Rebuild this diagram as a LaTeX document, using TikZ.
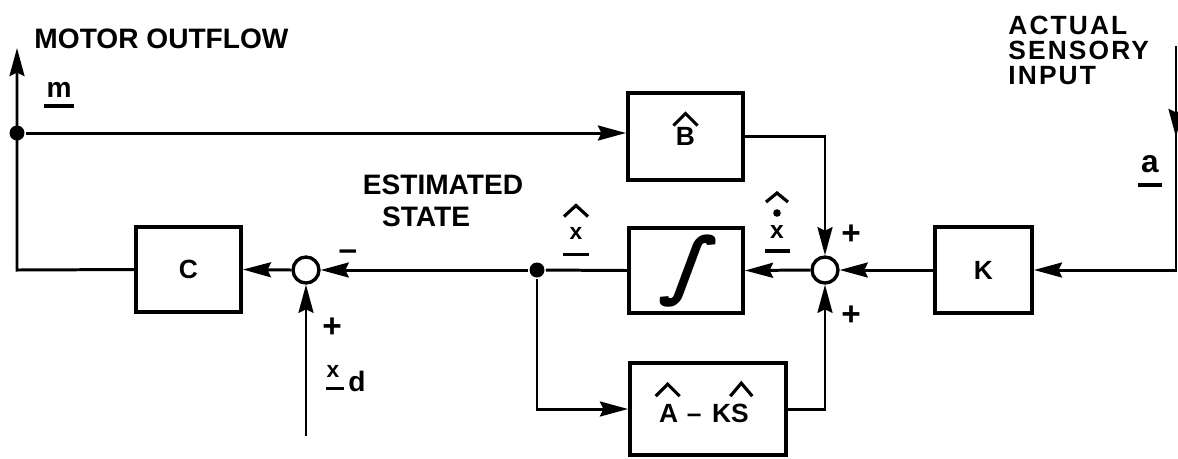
\documentclass[tikz,border=0pt]{standalone}
\usepackage{fontspec}
\setmainfont{Liberation Sans}
\newfontfamily\symfont{DejaVu Sans}
\usetikzlibrary{arrows.meta}
\begin{document}
\begin{tikzpicture}[x=0.02cm,y=-0.02cm,
  line width=1.7pt,
  arr/.style={-{Stealth[length=16pt,width=8.5pt,inset=2pt]}},
  blk/.style={draw,line width=2.2pt,inner sep=0pt,font=\fontsize{15}{17}\selectfont\bfseries},
  sumc/.style={draw,circle,line width=1.9pt,minimum size=0.52cm,inner sep=0pt},
  jdot/.style={circle,fill,minimum size=0.3cm,inner sep=0pt},
  lbl/.style={inner sep=0pt,font=\fontsize{16}{18}\selectfont\bfseries},
  sgn/.style={inner sep=0pt,font=\fontsize{19}{20}\selectfont\bfseries},
  boxtxt/.style={inner sep=0pt,font=\fontsize{15}{17}\selectfont\bfseries},
  hatl/.style={line width=1.8pt,line join=miter},
  ull/.style={line width=2.2pt},
]
\useasboundingbox (0,0) rectangle (1178,458);

% blocks
\node[blk,minimum width=2.1cm,minimum height=1.7cm] (C) at (188.5,269.5) {C};
\node[blk,minimum width=2.3cm,minimum height=1.74cm] (B) at (685.5,136.5) {B};
\node[blk,minimum width=2.28cm,minimum height=1.7cm] (I) at (686,270.5) {};
\node[blk,minimum width=1.94cm,minimum height=1.72cm] (K) at (983.5,270) {K};
\node[blk,minimum width=3.12cm,minimum height=1.84cm] (AKS) at (708,409) {};
\node[boxtxt] (aksT) at (704,413) {A\hspace{5pt}–\hspace{6pt}KS};
\begin{scope}[shift={(690,271)},xslant=0.3]
\node[transform shape,inner sep=0pt,font=\symfont\bfseries\fontsize{42}{44}\selectfont] (intg) at (0,0) {∫};
\end{scope}

% hats in blocks
\draw[hatl] ([shift={(-12,-11)}]B.center) -- ++(12,-12) -- ++(12,12);
\draw[hatl] ([shift={(-2,-6)}]aksT.north west) -- ++(12,-12) -- ++(12,12);
\draw[hatl] ([shift={(-20,-6)}]aksT.north east) -- ++(11,-13) -- ++(11,13);

% summing points and junctions
\node[sumc] (s1) at (306,270) {};
\node[sumc] (s2) at (825,270) {};
\node[jdot] (j0) at (17,133) {};
\node[jdot] (j1) at (537,270) {};

\coordinate (mout) at (17,48);
\coordinate (lc) at (17,270);
\coordinate (ain) at (1176,46);
\coordinate (amid) at (1176,137);
\coordinate (rc) at (1176,270);
\coordinate (xdin) at (306,436);

% connectors
\draw[arr] (C.west) -- (lc) -- (mout);
\draw[arr] (j0) -- (j0 -| B.west);
\draw[arr] (B.east) -| (s2.north);
\draw[arr] (ain) -- (amid);
\draw[arr] (ain) -- (rc) -- (K.east);
\draw[arr] (K.west) -- (s2.east);
\draw[arr] (s2.west) -- (I.east);
\draw (I.west) -- (j1);
\draw[arr] (j1) -- (s1.east);
\draw[arr] (s1.west) -- (C.east);
\draw[arr] (xdin) -- (s1.south);
\draw[arr] (j1) |- (AKS.west);
\draw[arr] (AKS.east) -| (s2.south);

% texts
\node[lbl,anchor=west] (motor) at (33,39) {MOTOR OUTFLOW};
\node[lbl] (m) at (59,90) {m};
\draw[ull] ([shift={(-1,7)}]m.south west) -- ([shift={(1,7)}]m.south east);

\node[inner sep=0pt,anchor=north west,align=left,
  font=\fontsize{15}{14.2}\selectfont\bfseries\addfontfeatures{LetterSpace=8}] (act) at (1007,15)
  {ACTUAL\\SENSORY\\INPUT};
\node[lbl,font=\fontsize{18}{20}\selectfont\bfseries] (a) at (1150,164) {a};
\node[lbl] (est1) at (443,185) {ESTIMATED};
\node[lbl] (est2) at (426,217) {STATE};

% x hat
\node[lbl,font=\fontsize{13}{14}\selectfont\bfseries] (xh) at (576,233) {x};
\draw[hatl] ([shift={(-12,-9)}]xh.north) -- ++(12,-11) -- ++(12,11);
\draw[ull] ([shift={(-13,14)}]xh.south) -- ([shift={(13,14)}]xh.south);
% x hat dot
\node[lbl,font=\fontsize{14}{14}\selectfont\bfseries] (xd) at (777,232) {x};
\fill ([shift={(0,-19)}]xd.center) circle (3.8);
\draw[hatl] ([shift={(-11,-22)}]xd.north) -- ++(11,-9) -- ++(11,9);
\draw[ull] ([shift={(-12,11)}]xd.south) -- ([shift={(13,11)}]xd.south);
% x_d
\node[lbl,font=\fontsize{13}{14}\selectfont\bfseries] (xr) at (333,371) {x};
\draw[ull] ([shift={(-7,10)}]xr.south) -- ([shift={(11,10)}]xr.south);
\node[lbl,font=\fontsize{16}{17}\selectfont\bfseries] (dsub) at (357,381) {d};
\draw[ull] ([shift={(-12,11)}]a.south) -- ([shift={(12,11)}]a.south);

% signs
\node[sgn] (minus) at (348,255) {–};
\node[sgn] (p1) at (332,328) {+};
\node[sgn] (p2) at (851,235) {+};
\node[sgn] (p3) at (851,316) {+};
\end{tikzpicture}
\end{document}
